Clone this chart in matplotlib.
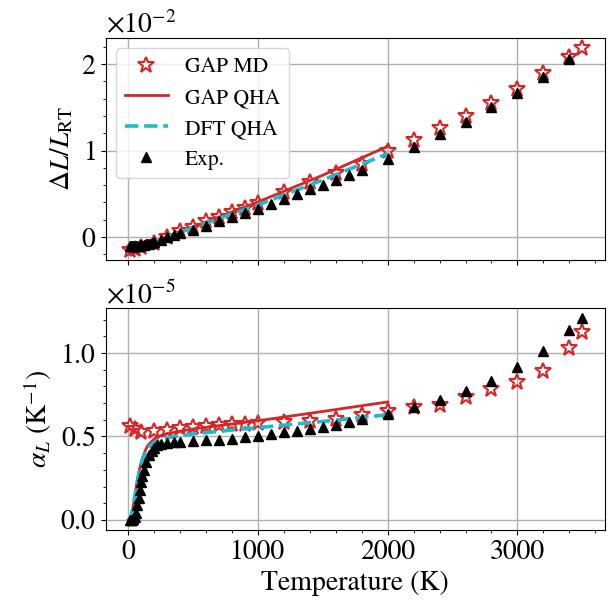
"""Thermal expansion: GAP MD / GAP QHA / DFT QHA against experiment.

Top panel: linear expansion dL/L_RT; bottom panel: expansion coefficient alpha_L.
Values read off the reference figure (top in units of 1e-2, bottom in 1e-5).
"""

import numpy as np
import matplotlib
matplotlib.use("Agg")
import matplotlib.pyplot as plt
from matplotlib.ticker import MultipleLocator

plt.rcParams.update({
    "font.family": "serif",
    "font.serif": ["STIXGeneral", "Liberation Serif", "DejaVu Serif"],
    "mathtext.fontset": "stix",
    "font.size": 20,
})

RED  = "#d62728"
CYAN = "#17becf"

# --- GAP MD (stars) ---
T_MD = [10, 50, 100, 200, 300, 400, 500, 600, 700, 800, 900, 1000,
        1200, 1400, 1600, 1800, 2000, 2200, 2400, 2600, 2800, 3000,
        3200, 3400, 3500]
DL_MD = [-0.15, -0.14, -0.12, -0.07, 0.0, 0.065, 0.12, 0.18, 0.235, 0.29,
         0.34, 0.39, 0.515, 0.636, 0.744, 0.85, 0.99, 1.125, 1.258, 1.399,
         1.545, 1.716, 1.895, 2.08, 2.19]
ALPHA_MD = [0.56, 0.545, 0.525, 0.535, 0.54, 0.55, 0.558, 0.565, 0.568,
            0.572, 0.575, 0.578, 0.584, 0.59, 0.604, 0.63, 0.655, 0.677,
            0.689, 0.736, 0.782, 0.827, 0.895, 1.03, 1.128]

# --- QHA curves (GAP and DFT) ---
T_QHA = [0, 20, 40, 60, 80, 100, 120, 150, 200, 250, 300, 400, 500, 750,
         1000, 1500, 2000]
DL_GAP_QHA = [-0.105, -0.105, -0.105, -0.104, -0.102, -0.10, -0.095, -0.085,
              -0.06, -0.03, 0.0, 0.06, 0.115, 0.26, 0.405, 0.715, 1.05]
DL_DFT_QHA = [-0.10, -0.10, -0.10, -0.10, -0.098, -0.095, -0.09, -0.08,
              -0.055, -0.028, 0.0, 0.055, 0.105, 0.24, 0.37, 0.66, 0.965]
ALPHA_GAP_QHA = [0.0, 0.01, 0.09, 0.19, 0.28, 0.345, 0.395, 0.445, 0.485,
                 0.505, 0.516, 0.532, 0.545, 0.57, 0.594, 0.65, 0.707]
ALPHA_DFT_QHA = [0.0, 0.01, 0.09, 0.185, 0.27, 0.335, 0.385, 0.43, 0.465,
                 0.482, 0.492, 0.505, 0.515, 0.535, 0.553, 0.59, 0.63]

# --- Experiment (triangles) ---
T_EXP_DL = [10, 20, 30, 40, 50, 60, 70, 80, 90, 100, 120, 140, 160, 180,
            200, 250, 300, 350, 400, 500, 600, 700, 800, 900, 1000, 1100,
            1200, 1300, 1400, 1500, 1600, 1700, 1800, 2000, 2200, 2400,
            2600, 2800, 3000, 3200, 3400]
DL_EXP = [-0.10, -0.10, -0.10, -0.10, -0.10, -0.10, -0.10, -0.10, -0.095,
          -0.095, -0.09, -0.085, -0.08, -0.07, -0.06, -0.035, 0.0, 0.02,
          0.045, 0.085, 0.13, 0.185, 0.235, 0.28, 0.327, 0.385, 0.44, 0.495,
          0.55, 0.60, 0.66, 0.715, 0.775, 0.904, 1.04, 1.19, 1.334, 1.50,
          1.67, 1.85, 2.06]

T_EXP_ALPHA = [10, 20, 30, 40, 50, 60, 70, 80, 90, 100, 110, 120, 140, 160,
               180, 200, 225, 250, 300, 350, 400, 500, 600, 700, 800, 900,
               1000, 1100, 1200, 1300, 1400, 1500, 1600, 1700, 1800, 2000,
               2200, 2400, 2600, 2800, 3000, 3200, 3400, 3500]
ALPHA_EXP = [0.0, 0.0, 0.0, 0.005, 0.015, 0.04, 0.09, 0.13, 0.18, 0.225,
             0.265, 0.30, 0.35, 0.39, 0.415, 0.432, 0.447, 0.455, 0.462,
             0.466, 0.469, 0.472, 0.476, 0.481, 0.486, 0.495, 0.505, 0.515,
             0.525, 0.533, 0.546, 0.555, 0.57, 0.584, 0.604, 0.637, 0.677,
             0.717, 0.772, 0.835, 0.914, 1.01, 1.138, 1.211]


def draw_panel(ax, md, gap, dft, t_exp, exp, scale, legend=False):
    ax.plot(T_MD, np.array(md) * scale, ls="none", marker="*", ms=12,
            mfc="none", mec=RED, mew=1.5, label="GAP MD")
    ax.plot(T_QHA, np.array(gap) * scale, color=RED, lw=2, label="GAP QHA")
    ax.plot(T_QHA, np.array(dft) * scale, color=CYAN, lw=2.6, ls="--",
            label="DFT QHA")
    ax.plot(t_exp, np.array(exp) * scale, ls="none", marker="^", ms=7,
            color="black", label="Exp.")
    ax.grid(True, color="#b0b0b0", lw=1)
    ax.set_axisbelow(True)
    ax.ticklabel_format(axis="y", style="sci", scilimits=(0, 0),
                        useMathText=True)
    ax.xaxis.set_minor_locator(MultipleLocator(200))
    if legend:
        ax.legend(loc="upper left", fontsize=15.5)


fig = plt.figure(figsize=(6.12, 6.01), dpi=100)
ax1 = fig.add_axes([0.1724, 0.5674, 0.8162, 0.3699])
ax2 = fig.add_axes([0.1724, 0.1181, 0.8162, 0.3699], sharex=ax1)

draw_panel(ax1, DL_MD, DL_GAP_QHA, DL_DFT_QHA, T_EXP_DL, DL_EXP, 1e-2,
           legend=True)
draw_panel(ax2, ALPHA_MD, ALPHA_GAP_QHA, ALPHA_DFT_QHA, T_EXP_ALPHA,
           ALPHA_EXP, 1e-5)

ax1.yaxis.set_major_locator(MultipleLocator(1e-2))
ax1.yaxis.set_minor_locator(MultipleLocator(0.2e-2))
ax2.yaxis.set_major_locator(MultipleLocator(0.5e-5))
ax2.yaxis.set_minor_locator(MultipleLocator(0.1e-5))
ax1.tick_params(labelbottom=False)

ax1.set_ylabel(r"$\Delta L / L_{\mathrm{RT}}$")
ax2.set_ylabel(r"$\alpha_L$ (K$^{-1}$)")
ax2.set_xlabel("Temperature (K)")

fig.savefig("out.png", dpi=100)
